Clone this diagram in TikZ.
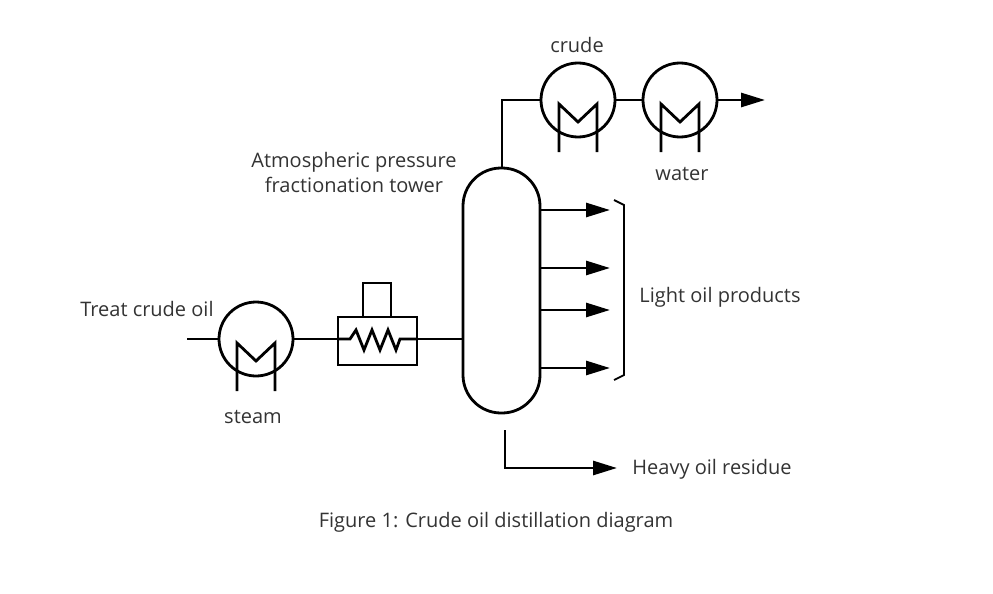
\documentclass[tikz,border=0pt]{standalone}
\usepackage{fontspec}
\setmainfont{Open Sans}
\usetikzlibrary{positioning,arrows.meta}
\newcommand{\exch}[1]{% heat exchanger symbol at node #1
  \draw[pipe] ([xshift=-19pt,yshift=-52pt]#1.center) -- ++(0,-48) -- ++(19,18) -- ++(19,-18) -- ++(0,48);}

\begin{document}
\begin{tikzpicture}[
    x=1pt, y=-1pt,
    >={Triangle[length=24pt,width=14pt]},
    pipe/.style={draw, line width=2.8pt},
    hx/.style={circle, draw, line width=2.8pt, minimum size=74pt, inner sep=0pt},
    lbl/.style={font=\fontsize{20}{25}\selectfont, align=center, text=black!80}]

    \useasboundingbox (0,0) rectangle (993,594);

    % exchangers and tower
    \node[hx] (steamhx) at (256,339) {};
    \node[hx] (crudehx) at (578,100) {};
    \node[hx] (waterhx) at (680,100) {};
    \draw[pipe, rounded corners=38pt] (463,168) rectangle (540,413);
    \coordinate (tw) at (463,339);
    \coordinate (ttop) at (502,168);
    \exch{steamhx}
    \exch{crudehx}
    \exch{waterhx}

    % furnace
    \draw[pipe] (338,317) rectangle (417,365);
    \draw[pipe] (363,317) -- (363,283) -- (391,283) -- (391,317);
    \coordinate (fin) at (338,339);
    \coordinate (fout) at (417,339);
    \draw[pipe] (fin) -- (350,339) -- (356,330) -- (364,350) -- (372,330) -- (380,350)
        -- (388,330) -- (396,350) -- (400,339) -- (fout);

    % piping
    \coordinate (feed) at (187,339);
    \draw[pipe] (feed) -- (steamhx.west);
    \draw[pipe] (steamhx.east) -- (fin);
    \draw[pipe] (fout) -- (tw);
    \draw[pipe] (ttop) |- (crudehx.west);
    \draw[pipe] (crudehx.east) -- (waterhx.west);
    \coordinate (vap) at (765,100);
    \draw[pipe, ->] (waterhx.east) -- (vap);
    \foreach \y in {210,268,310,368}
        \draw[pipe, ->] (540,\y) -- (610,\y);
    \draw[line width=1.8pt] (614,200) -- (624,205) -- (624,375) -- (614,380);
    \coordinate (res) at (617,468);
    \draw[pipe, ->] (505,430) |- (res);

    % labels
    \node[lbl] (tcrude) at (577,45) {crude};
    \node[lbl] (twater) at (682,174) {water};
    \node[lbl] (ttower) at (354,172) {Atmospheric pressure\\fractionation tower};
    \node[lbl] (tlight) at (720,297) {Light oil products};
    \node[lbl] (tfeed) at (147,309) {Treat crude oil};
    \node[lbl] (tsteam) at (253,417) {steam};
    \node[lbl] (theavy) at (712,469) {Heavy oil residue};
    \node[lbl] (tcap) at (496,522) {Figure 1: Crude oil distillation diagram};
\end{tikzpicture}
\end{document}
